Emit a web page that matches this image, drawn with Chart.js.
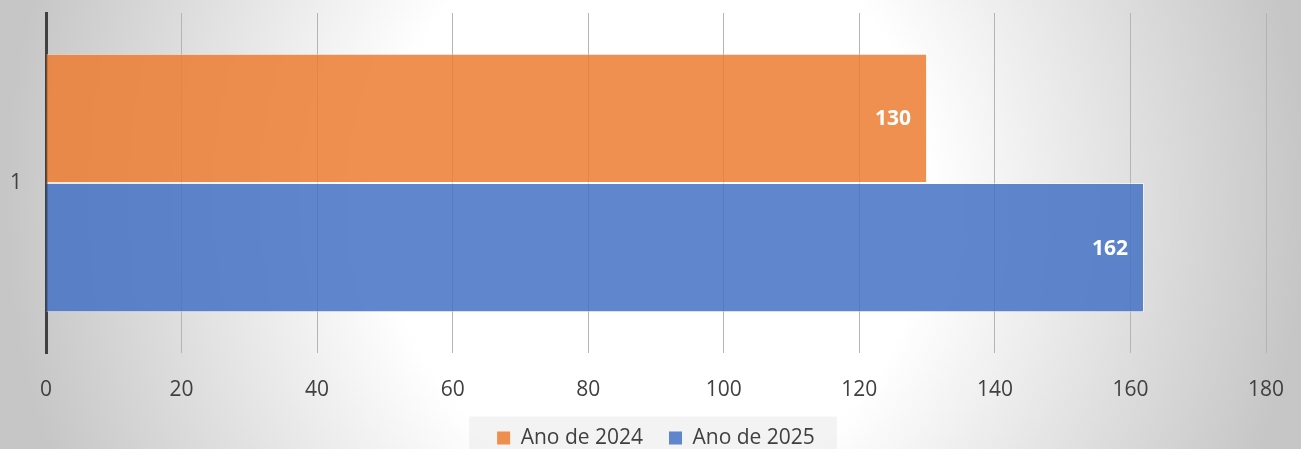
<!DOCTYPE html>
<html>
<head>
<meta charset="utf-8">
<script src="https://cdn.jsdelivr.net/npm/chart.js@4"></script>
<style>
  html, body { margin: 0; padding: 0; background: #fff; }
  #wrap { position: relative; width: 1301px; height: 449px; }
</style>
</head>
<body>
<div id="wrap"><canvas id="chart"></canvas></div>
<script>
const categories = ['1'];
const seriesNames = ['Ano de 2024', 'Ano de 2025'];
const values2024 = [130];
const values2025 = [162];
const xMin = 0;
const xMax = 180;
const xStep = 20;

const FONT = '"Open Sans", "DejaVu Sans", sans-serif';

// Excel-like radial background, white in the middle and grey at the sides
const backgroundPlugin = {
    id: 'background',
    beforeDraw(chart) {
        const ctx = chart.ctx;
        ctx.save();
        ctx.translate(655, 200);
        ctx.scale(650, 700);
        const g = ctx.createRadialGradient(0, 0, 0, 0, 0, 1);
        g.addColorStop(0, '#ffffff');
        g.addColorStop(0.42, '#ffffff');
        g.addColorStop(1, '#c6c6c6');
        ctx.fillStyle = g;
        ctx.fillRect(-2, -2, 4, 4);
        ctx.restore();

        // light box behind the legend
        const boxes = chart.legend && chart.legend.legendHitBoxes;
        if (boxes && boxes.length) {
            const first = boxes[0];
            const last = boxes[boxes.length - 1];
            const left = first.left - 28;
            const right = last.left + last.width + 22;
            const top = first.top - 11;
            ctx.save();
            ctx.fillStyle = 'rgba(235, 235, 235, 0.6)';
            ctx.fillRect(left, top, right - left, chart.height - top);
            ctx.restore();
        }
    }
};

// value labels inside the end of each bar
const valueLabelPlugin = {
    id: 'valueLabels',
    afterDatasetsDraw(chart) {
        const ctx = chart.ctx;
        ctx.save();
        ctx.fillStyle = '#ffffff';
        ctx.font = 'bold 21px ' + FONT;
        ctx.textAlign = 'right';
        ctx.textBaseline = 'middle';
        chart.data.datasets.forEach((ds, i) => {
            const meta = chart.getDatasetMeta(i);
            meta.data.forEach((bar, j) => {
                ctx.fillText(String(ds.data[j]), bar.x - 16, bar.y + 1);
            });
        });
        ctx.restore();
    }
};

new Chart(document.getElementById('chart'), {
    type: 'bar',
    data: {
        labels: categories,
        datasets: [{
            label: seriesNames[0],
            data: values2024,
            backgroundColor: 'rgba(237, 125, 49, 0.85)',
            borderColor: 'rgba(255, 255, 255, 0.55)',
            borderWidth: 1
        }, {
            label: seriesNames[1],
            data: values2025,
            backgroundColor: 'rgba(68, 114, 196, 0.85)',
            borderColor: 'rgba(255, 255, 255, 0.55)',
            borderWidth: 1
        }]
    },
    options: {
        indexAxis: 'y',
        responsive: true,
        maintainAspectRatio: false,
        animation: false,
        categoryPercentage: 0.76,
        barPercentage: 1,
        layout: {
            padding: { top: 13, right: 35, bottom: -9.5, left: 0 }
        },
        scales: {
            x: {
                min: xMin,
                max: xMax,
                afterFit(scale) {
                    scale.height = 48.5;
                    scale.paddingLeft = 0;
                    scale.paddingRight = 0;
                },
                ticks: {
                    stepSize: xStep,
                    color: '#404040',
                    padding: 24,
                    font: { family: FONT, size: 21 }
                },
                grid: {
                    color: '#b4b4b4',
                    lineWidth: 1,
                    drawTicks: false
                },
                border: { display: false }
            },
            y: {
                afterFit(scale) {
                    scale.width = 46;
                    scale.paddingTop = 0;
                    scale.paddingBottom = 0;
                },
                ticks: {
                    color: '#404040',
                    padding: 24,
                    font: { family: FONT, size: 21 }
                },
                grid: { display: false, drawTicks: false },
                border: { display: true, color: '#404040', width: 3 }
            }
        },
        plugins: {
            legend: {
                position: 'bottom',
                fullSize: false,
                labels: {
                    boxWidth: 13,
                    boxHeight: 13,
                    padding: 26,
                    color: '#404040',
                    font: { family: FONT, size: 21 },
                    generateLabels(chart) {
                        const items = Chart.defaults.plugins.legend.labels.generateLabels(chart);
                        items.forEach(it => { it.lineWidth = 0; it.strokeStyle = 'rgba(0,0,0,0)'; });
                        return items;
                    }
                }
            },
            tooltip: { enabled: false }
        }
    },
    plugins: [backgroundPlugin, valueLabelPlugin]
});
</script>
</body>
</html>
